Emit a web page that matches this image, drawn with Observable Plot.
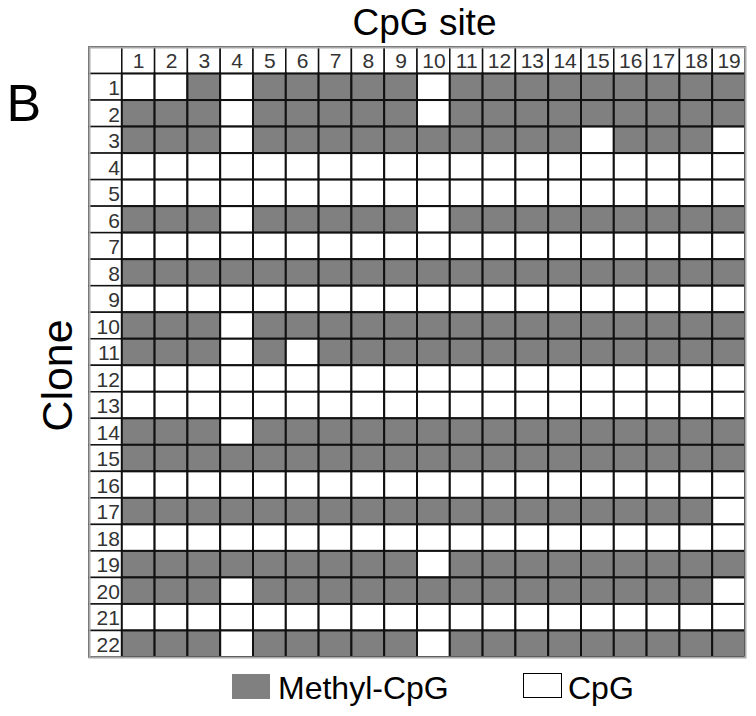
<!DOCTYPE html>
<html>
<head>
<meta charset="utf-8">
<script src="https://cdn.jsdelivr.net/npm/d3@7"></script>
<script src="https://cdn.jsdelivr.net/npm/@observablehq/plot@0.6"></script>
<style>
  body { margin: 0; background: white; }
  #wrap { position: relative; width: 756px; height: 716px; font-family: "Liberation Sans", Arial, sans-serif; }
  #chart { position: absolute; left: 0; top: 0; }
  .lg { position: absolute; font-size: 32px; line-height: 32px; color: #000; white-space: nowrap; }
</style>
</head>
<body>
<div id="wrap">
  <div id="chart"></div>
  <div id="legend"></div>
</div>
<script>
// CpG site labels (columns) and clone labels (rows)
const sites = ["1","2","3","4","5","6","7","8","9","10","11","12","13","14","15","16","17","18","19"];
const clones = ["1","2","3","4","5","6","7","8","9","10","11","12","13","14","15","16","17","18","19","20","21","22"];
// 1 = Methyl-CpG, 0 = CpG (unmethylated); one row per clone, one entry per site
const methylation = [
  [0,0,1,0,1,1,1,1,1,0,1,1,1,1,1,1,1,1,1],
  [1,1,1,0,1,1,1,1,1,0,1,1,1,1,1,1,1,1,1],
  [1,1,1,0,1,1,1,1,1,1,1,1,1,1,0,1,1,1,0],
  [0,0,0,0,0,0,0,0,0,0,0,0,0,0,0,0,0,0,0],
  [0,0,0,0,0,0,0,0,0,0,0,0,0,0,0,0,0,0,0],
  [1,1,1,0,1,1,1,1,1,0,1,1,1,1,1,1,1,1,1],
  [0,0,0,0,0,0,0,0,0,0,0,0,0,0,0,0,0,0,0],
  [1,1,1,1,1,1,1,1,1,1,1,1,1,1,1,1,1,1,1],
  [0,0,0,0,0,0,0,0,0,0,0,0,0,0,0,0,0,0,0],
  [1,1,1,0,1,1,1,1,1,1,1,1,1,1,1,1,1,1,1],
  [1,1,1,0,1,0,1,1,1,1,1,1,1,1,1,1,1,1,1],
  [0,0,0,0,0,0,0,0,0,0,0,0,0,0,0,0,0,0,0],
  [0,0,0,0,0,0,0,0,0,0,0,0,0,0,0,0,0,0,0],
  [1,1,1,0,1,1,1,1,1,1,1,1,1,1,1,1,1,1,1],
  [1,1,1,1,1,1,1,1,1,1,1,1,1,1,1,1,1,1,1],
  [0,0,0,0,0,0,0,0,0,0,0,0,0,0,0,0,0,0,0],
  [1,1,1,1,1,1,1,1,1,1,1,1,1,1,1,1,1,1,0],
  [0,0,0,0,0,0,0,0,0,0,0,0,0,0,0,0,0,0,0],
  [1,1,1,1,1,1,1,1,1,0,1,1,1,1,1,1,1,1,1],
  [1,1,1,0,1,1,1,1,1,1,1,1,1,1,1,1,1,1,0],
  [0,0,0,0,0,0,0,0,0,0,0,0,0,0,0,0,0,0,0],
  [1,1,1,0,1,1,1,1,1,0,1,1,1,1,1,1,1,1,1]
];
const legendLabels = ["Methyl-CpG", "CpG"];
const panelLabel = "B";
const xTitle = "CpG site";
const yTitle = "Clone";

const GRAY = "#808080";

const cells = [];
clones.forEach((c, i) => sites.forEach((s, j) => cells.push({clone: c, site: s, m: methylation[i][j]})));
const headerCells = [{site: "", clone: ""}]
  .concat(sites.map(s => ({site: s, clone: ""})))
  .concat(clones.map(c => ({site: "", clone: c})));

const font = "Liberation Sans, Arial, sans-serif";

const chart = Plot.plot({
  width: 756,
  height: 662,
  marginLeft: 89,
  marginRight: 11,
  marginTop: 47,
  marginBottom: 5,
  style: {fontFamily: font, background: "white"},
  x: {domain: ["", ...sites], padding: 0, round: false, axis: null},
  y: {domain: ["", ...clones], padding: 0, round: false, axis: null},
  color: {type: "ordinal", domain: [0, 1], range: ["white", GRAY]},
  marks: [
    Plot.cell(headerCells, {x: "site", y: "clone", fill: "white", stroke: "#111", strokeWidth: 1.5, inset: 0}),
    Plot.cell(cells, {x: "site", y: "clone", fill: "m", stroke: "#111", strokeWidth: 2, inset: 0}),
    Plot.frame({stroke: "#aaaaaa", strokeWidth: 2}),
    Plot.text(sites, {x: d => d, y: () => "", text: d => d, fontSize: 21, fill: "#333", dy: 1}),
    Plot.text(clones, {x: () => "", y: d => d, text: d => d, fontSize: 21, fill: "#333", textAnchor: "end", dx: 14, dy: 1}),
    Plot.text([xTitle], {frameAnchor: "top", text: d => d, fontSize: 37, fill: "#000", textAnchor: "middle", lineAnchor: "bottom", dx: 7, dy: -13}),
    Plot.text([yTitle], {frameAnchor: "left", text: d => d, fontSize: 43, fill: "#000", rotate: -90, textAnchor: "middle", lineAnchor: "bottom", dx: -18, dy: 23}),
    Plot.text([panelLabel], {frameAnchor: "top-left", text: d => d, fontSize: 52, fill: "#000", textAnchor: "start", lineAnchor: "bottom", dx: -83, dy: 73})
  ]
});
document.getElementById("chart").appendChild(chart);

const lg = document.getElementById("legend");
lg.innerHTML = `
  <div style="position:absolute;left:232px;top:674px;width:38px;height:25px;background:${GRAY}"></div>
  <div class="lg" style="left:278px;top:672px">${legendLabels[0]}</div>
  <div style="position:absolute;left:523px;top:673px;width:37px;height:23px;background:white;border:1.5px solid #000"></div>
  <div class="lg" style="left:568px;top:672px">${legendLabels[1]}</div>
`;
</script>
</body>
</html>
